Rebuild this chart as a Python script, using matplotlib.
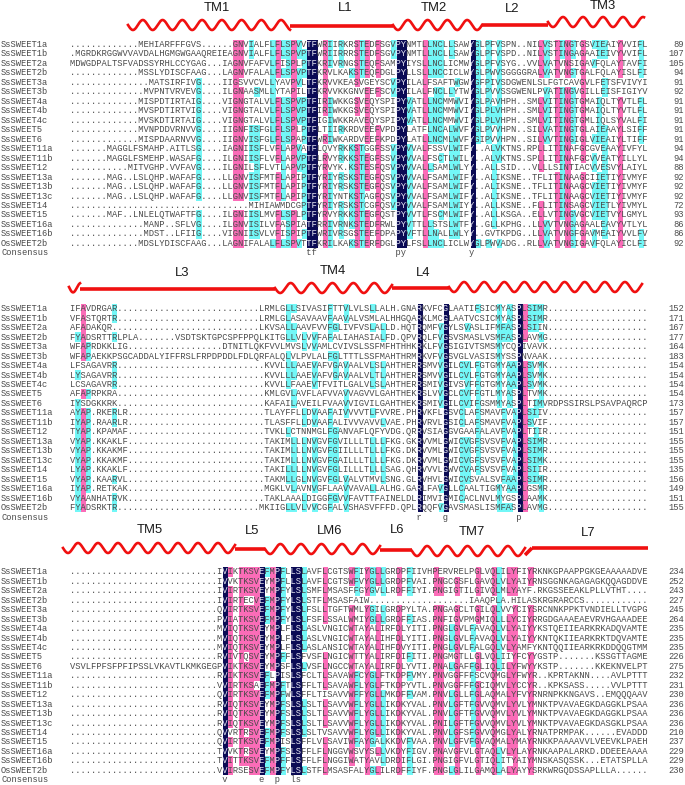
import numpy as np
import matplotlib
matplotlib.use("Agg")
import matplotlib.pyplot as plt
from matplotlib.colors import ListedColormap

names = ["SsSWEET1a", "SsSWEET1b", "SsSWEET2a", "SsSWEET2b", "SsSWEET3a", "SsSWEET3b",
         "SsSWEET4a", "SsSWEET4b", "SsSWEET4c", "SsSWEET5", "SsSWEET6", "SsSWEET11a",
         "SsSWEET11b", "SsSWEET12", "SsSWEET13a", "SsSWEET13b", "SsSWEET13c", "SsSWEET14",
         "SsSWEET15", "SsSWEET16a", "SsSWEET16b", "OsSWEET2b"]

seq1 = [
    "."*13 + "MEHIARFFFGVS......" + "GNVIALFLFLSPVVTF" + "WRIIRKRSTEDFSGVPY" + "NMTLLNCLLSAWY" + "GLPFVSPN..NILVSTINGTGSVIEAIYVVIFL",
    ".MGRDKRGGWVVAVDALHGMGWGAAQREIEA" + "GNVIALFLFLSPVPTF" + "WRIIRRRSTEDFSGVPY" + "NMTLLNCLLSAWY" + "GLPFVSPD..NILVSTINGAGAAIEIVYVVIFL",
    "MDWGDPALTSFVADSSYRHLCCYGAG...IA" + "GNVFAFVLFISPLPTF" + "KRIVRNGSTEQFSAMPY" + "IYSLLNCLICMWY" + "GLPFVSYG..VVLVATVNSIGAVFQLAYTAVFI",
    "."*13 + "MSSLYDISCFAAG...LA" + "GNVFALALFLSPVPTF" + "KRVLKAKSTEQFDGLPY" + "LLSLLNCCICLWY" + "GLPWVSGGGGRALVATVNGTGALFQLAYISLFI",
    "."*15 + "MATSIRFIVG....II" + "GSVVCVLLYAVPVLTF" + "KRVVKEASVGEYSCVPY" + "ILALFSAFTWGWY" + "GFPIVSDGWENLSLFGTCAVGVLFETSFVIVYI",
    "."*14 + "MVPNTVRVEVG....IL" + "GNAASMLLYTAPILTF" + "KRVVKKGNVEEFSCVPY" + "ILALFNCLLYTWY" + "GLPVVSSGWENLPVATINGVGILLEISFIGIYV",
    "."*13 + "MISPDTIRTAIG....VI" + "GNGTALVLFLSPVPTF" + "IRIWKKGSVEQYSPIPY" + "VATLLNCMMWVIY" + "GLPAVHPH..SMLVITINGTGMAIQLTYVTLFL",
    "."*13 + "MVSPDTIRTVIG....VI" + "GNGTALVLFLSPVPTF" + "IRIWKKGSVEQYSPIPY" + "VATLLNCMMWVIY" + "GLPLVHPH..SMLVITINGTGMAIQLTYVTLFL",
    "."*13 + "MVSKDTIRTAIG....VI" + "GNGTALVLFLSPVPTF" + "IGIWKKRAVEQYSPIPY" + "VATLLNCMMWVIY" + "GLPLVHPH..SMLVITINGTGMLIQLSYVALFI",
    "."*13 + "MVNPDDVRNVVG....II" + "GNFISFGLFLSPLPTF" + "LTIIRKRDVEEFVPDPY" + "LATFLNCALWVFY" + "GLPVVHPN..SILVATINGTGLAIEAAYLSIFF",
    "."*13 + "MISPDAARNVVG....II" + "GNVISFGLFLSPAPTF" + "WRIWKARDVEEFKPDPY" + "LATLLNCMLWVFY" + "GIPVVHPN..SILVVTINGIGLVIEAIYLTIFF",
    "."*7 + "MAGGLFSMAHP.AITLSG....IA" + "GNIISFLVFLAPVATF" + "LQVYRKKSTGGFSSVPY" + "VVALFSSVLWIFY" + "..ALVKTNS.RPLLITINAFGCGVEAAYIVFYL",
    "."*7 + "MAGGLFSMEHP.WASAFG....IL" + "GNIISFLVFLAPVPTF" + "LRVYRKKSTEGFSSVPY" + "VVALFSCTLWILY" + "..ALVKTNS.SPLLITINAFGCVVEATYILLYL",
    "."*11 + "MITVGHP.VVFAVG....IL" + "GNILSFLVTLAPVPTF" + "YRVYK.KSTESFQSVPY" + "VVALLSAMLWLYY" + "..ALLSID...VLLLSINTIACVVESVYLAIYL",
    "."*7 + "MAG..LSLQHP.WAFAFG....LL" + "GNVISFMTFLAPIPTF" + "YRIYRSKSTEGFQSVPY" + "VVALFSAMLWIFY" + "..ALIKSNE..TFLITINAAGCIIETIYIVMYF",
    "."*7 + "MAG..LSLQHP.WAFAFG....LL" + "GNVISFMTFLAPIPTF" + "YRIYRSKSTEGFQSVPY" + "VVALFSAMLWIFY" + "..ALIKSNE..TFLITINAAGCVIETIYIVMYF",
    "."*7 + "MAG..LSLQHP.WAFAFG....LL" + "GNVISFMTFLAPIPTF" + "YRIYNTKSTAGFQSVPY" + "VVALFSAMLWIFY" + "..ALIKSNE..TFLITINAAGCVIETIYIVMYF",
    "."*34 + "MIHIAWMDCGPTF" + "YRIYRSKSTCGFQSVPY" + "VVALFSAMLWIYY" + "..ALLKSNE..FLLITINSAGCVIETLYIVMYL",
    "."*7 + "MAF..LNLELQTWAFTFG....IL" + "GNIISLMVFLSPLPTF" + "YRVYRKKSTEGFQSTPY" + "VVTLFSCMLWIFY" + "..ALLKSGA..ELLVTINGVGCVIETVYLGMYL",
    "."*14 + "MANP..SFLVG....IL" + "GNVISILVFASPIATF" + "RRIVRNKSTEDFRWLPY" + "VTTLLSTSLWTFY" + "..GLLKPHG..LLVVTVNGAGAALEAVYVTLYL",
    "."*14 + "MDST..LFIIG....VI" + "GNIISVLVFISPIPTF" + "WRIVRSGSTEEFDPAPY" + "VFTLLNALLWLYY" + "..GVTKPDG..LLVATVNGFGAVMEAIYVVLFV",
    "."*13 + "MDSLYDISCFAAG...LA" + "GNIFALALFLSPVTTF" + "KRILKAKSTERFDGLPY" + "LFSLLNCLICLWY" + "GLPWVADG..RLLVATVNGIGAVFQLAYICLFI",
]
num1 = [89, 107, 105, 94, 91, 92, 91, 91, 91, 91, 91, 94, 94, 88, 92, 92, 92, 72, 93, 86, 86, 92]
cons1 = " "*45 + "tf" + " "*15 + "py" + " "*12 + "y"

seq2 = [
    "IFAVDRGAR" + "."*27 + "LRMLGLLSIVASIFTTVLVLSLLALH.GNA" + "RKVFCG" + "LAATIFSICMYASP" + "LSIMR" + "."*19,
    "VFASTQRTR" + "."*27 + "LRMLGLASAVAAVFAAVALVSMLALHHGQA" + "RKLMCG" + "LAATVCSICMYASP" + "LSIMR" + "."*19,
    "AFADAKQR" + "."*28 + "LKVSALLAAVFVVFGLIVFVSLALLD.HQT" + "RQMFVG" + "YLSVASLIFMFASP" + "LSIIN" + "."*19,
    "FYADSRTTRLPLA" + "."*7 + "VSDTSKTGPCSPFPPQ" + "LKITGLLVLVVFAFALIAHASIALFD.QPV" + "RQLFVG" + "SVSMASLVSMFASP" + "LAVMG" + "."*19,
    "WFAPRDKKLIG" + "."*18 + "DTNITLQ" + "KFVVLMVSLVVAMLCVIVSLSSFMFHTHHK" + "RKLFVG" + "SIGIVTSMSMYCQP" + "IVAVK" + "."*19,
    "WFAPAEKKPSGCADDALYIFFRSLFRPDPDDLFDLQ" + "RFALQLVLPVLALFGLTTTLSSFMAHTHRM" + "RKVFVG" + "SVGLVASISMYSSP" + "NVAAK" + "."*19,
    "LFSAGAVRR" + "."*27 + ".KVVLLLAAEVAFVGAVAALVLSLAHTHER" + "RSMVVG" + "ILCVLFGTGMYAAP" + "LSVMK" + "."*19,
    "LYSAGAVRR" + "."*27 + ".KVVLLLAAEVAFVGAVAALVLTLAHTHER" + "RSMVVG" + "ILCVLFGTGMYAAP" + "LSVMK" + "."*19,
    "LCSAGAVRR" + "."*27 + ".KVVLLFAAEVTFVITLGALVLSLAHTHER" + "RSMIVG" + "IVSVFFGTGMYAAP" + "LSVMK" + "."*19,
    "AFAPRPKRA" + "."*27 + ".KMLGVLAVFLAFVVAVVAGVVLGAHTHEK" + "RSLVVG" + "CLCVFFGTLMYASP" + "LTVMK" + "."*19,
    "IYSDGKKRK" + "."*27 + ".KAFAILAVEILFVAAVVIGVILGAHTHEK" + "RSMIVG" + "ILCVIFGSMMYASP" + "LTIMVRDPSSIRSLPSAVPAQRCP",
    "AYAP.RKERLR" + "."*25 + ".TLAYFFLLDVAAFAIVVVVTLFVVRE.PH" + "RVKFLG" + "SVCLAFSMAVFVAP" + "LSIIV" + "."*19,
    "IYAP.RAARLR" + "."*25 + ".TLASFFLLDVAAFALIVVVAVVLVAE.PH" + "RVRVLG" + "SICLAFSMAVFVAP" + "LSVIF" + "."*19,
    "TYAP.KPAMAF" + "."*25 + ".TVKLLCTNNMGLFGANVAFLQFYVDG.QR" + "RVSIAG" + "GVGAAFALAVFVAP" + "LTIIR" + "."*19,
    "VYAP.KKAKLF" + "."*25 + ".TAKIMLLLNVGVFGVILLLTLLLFKG.GK" + "RVVMLG" + "WICVGFSVSVFVAP" + "LSIMR" + "."*19,
    "VYAP.KKAKMF" + "."*25 + ".TAKIMLLLNVGVFGIILLLTLLLFKG.DK" + "RVVMLG" + "WICVGFSVSVFVAP" + "LSIMR" + "."*19,
    "VYAP.KKAKMF" + "."*25 + ".TAKIMLLLNVGVFGAILLLTLLLFKG.DK" + "RVVMLG" + "WICVGFSVSVFVAP" + "LSIMK" + "."*19,
    "LYAP.KKAKLF" + "."*25 + ".TAKILLLLNVGVFGLILLLTLLLSAG.QH" + "RVVVLG" + "WVCVAFSVSVFVAP" + "LSIIR" + "."*19,
    "VYAP.KAARVL" + "."*25 + ".TAKMLLGLNVGVFGLVALVTMVLSNG.GL" + "RVHVLG" + "WICVSVALSVFAAP" + "LSIMR" + "."*19,
    "IYAP.RETKAK" + "."*25 + ".MGKLVLAVNVGFLAAVVAVALLALHG.GA" + "RLFAVG" + "LLCAALTIGMYAAP" + "LGSMR" + "."*19,
    "VYAANHATRVK" + "."*25 + ".TAKLAAALDIGGFGVVFAVTTFAINELDL" + "RIMVIG" + "MICACLNVLMYGSP" + "LAAMK" + "."*19,
    "FYADSRKTR" + "."*27 + "MKIIGLLVLVVCGFALVSHASVFFFD.QPL" + "RQQFVG" + "AVSMASLISMFASP" + "LAVMG" + "."*19,
]
num2 = [152, 171, 167, 177, 164, 183, 154, 154, 154, 154, 173, 157, 157, 151, 155, 155, 155, 135, 156, 149, 151, 155]
cons2 = " "*66 + "r" + " "*4 + "g" + " "*13 + "p"

seq3 = [
    "."*28 + "IVIKTKSVEFMPFLLSLAVFLCGTSWFIYGLLGRDPFIIVHPERVRELPGLVQLILYFIY" + "RKNKGPAAPPGKGEAAAAADVE",
    "."*28 + "IVVKTKSVEYMPFLLSLAVFLCGTSWFVYGLLGRDPFVAI.PNGCGSFLGAVQLVLYAIY" + "RNSGGNKAGAGAGKQQAGDDVE",
    "."*28 + "IVIRTKSVEYMPFYLSLSMFLMSASFFGYGVLLRDFFIYI.PNGIGTILGIVQLMLYAYF" + ".RKGSSEEAKLPLLVTHT....",
    "."*28 + "IVIRTECVEFMPFYLSLSTFLMSASFAIW." + "."*18 + "IAAQPLA.HILA" + "SKRGRARCCS" + "."*12,
    "."*28 + "QVIRTKSVEFMPFYLSLFSLLTGFTWMLYGILGRDPYLTA.PNGAGCLTGILQLVVYCIY" + "SRCNNKPPKTVNDIELLTVGPG",
    "."*28 + "PVIATKSVEFMPFYLSLFSFLSSALWMIYGLLGRDFFIAS.PNFIGVPMGMIQLLLYCIY" + "RRGDGAAAEAEVRVHGAAADEE",
    "."*28 + "MVIQTKSVEYMPLFLSLASLVNGICWTAYALIRFDLYITI.PNGLGVLFAVAQLVLYAIY" + "YKSTQEIIEARKRKADQVAMTE",
    "."*28 + "MVIQTKSVEYMPLFLSLASLVNGICWTAYALIHFDLYITI.PNGLGVLFAVAQLVLYAIY" + "YKNTQKIIEARKRKTDQVAMTE",
    "."*28 + "MVIQTKSVEYMPLFLSLASLANSICWTAYALIHFDVYITI.PNGLGVLFALGQLVLYAMF" + "YKNTQQIIEARKRKDDQQGTMM",
    "."*28 + "RVIVTQSVEYMPFFLSFVSFLNGICWTTYALIRFDIFITI.PNGMGTLLGLVQLIIYFCY" + "YGSTP.......KSSGTTAGME",
    "VSVLFPFSFPFIPSSLVKAVTLKMKGEG" + "PVIKTKSVEYMPSFLSLVSFLNGCCWTAYALIRFDLYVTI.PNALGAFFGLIQLILYFWY" + "YKSTP.......KKEKNVELPT",
    "."*28 + "RVIKTKSVEFLPISLSFCLTLSAVAWFCYGLFTKDPFVMY.PNVGGFFFSCVQMGLYFWY" + "R..KPRTAKNN....AVLPTTT",
    "."*28 + "VVIRTKSAEFMPFTLSFFLTLSAVAWFLYGLFTKDPYVTL.PNVGGFFFGCIQMVLYCCY" + "R..KPKSASS.....VVLPTTT",
    "."*28 + "QVIRTKSVEFMPFWLSFFLTISAVVWFFYGLLMKDFFVAM.PNVLGLLFGLAQMALYFVY" + "RNRNPKKNGAVS..EMQQQAAV",
    "."*28 + "RVIQTKSVEYMPFSLSLSLTLSAVVWFLYGLLIKDKYVAL.PNVLGFTFGVVQMVLYVLY" + "MNKTPVAVAEGKDAGGKLPSAA",
    "."*28 + "RVIQTKSVEYMPFSLSLSLTLSAVVWFLYGLLIKDKYVAL.PNVLGFTFGVVQMVLYVLY" + "MNKTPVAVAEGKDAGGKLPSAA",
    "."*28 + "RVIQTKSVEYMPFSLSLSLTLSAVVWFLYGLLIKDKYVAL.PNILGFTFGVVQMVLYVLY" + "MNKTPVAVAEGKDASGKLPSAA",
    "."*28 + "QVVRTRSVEFMPFSLSLSLTVSAVVWFLYGLLIKDKYVAL.PNVLGFSFGVVQMGLYALY" + "RNATPRMPAK......EVADDD",
    "."*28 + "QVIRTKSVEFMPISLSFFLVLSAVIWFAYGALKKDVFVAA.PNVLGFVFGVAQMALYMAY" + "RNKKPAAAAVVLVEEVKLPAEH",
    "."*28 + "TVVKTRSVEYMPFSLSFFLFLNGGVWSVYSLLVKDYFIGV.PNAVGFVLGTAQLVLYLAY" + "RNKAAPALARKD.DDEEEAAAA",
    "."*28 + "TVITTKSVEFMPFFLSFFLFLNGGIWATYAVLDRDIFLGI.PNGIGFVLGTIQLITYAIY" + "MNSKASQSSK...ETATSPLLA",
    "."*28 + "VVIRSESVEFMPFYLSLSTFLMSASFALYGLILRDFFIYF.PNGLGLILGAMQLALYAYY" + "SRKWRGQDSSAPLLLA......",
]
num3 = [234, 252, 243, 227, 245, 264, 235, 235, 235, 226, 275, 232, 231, 230, 236, 236, 236, 210, 237, 229, 229, 230]
cons3 = " "*29 + "v" + " "*6 + "e" + " "*2 + "p" + " "*2 + "ls"

# topology tracks: kind, x start, x end, y at both ends, turns of the helix
track1 = [("w", 128, 290, 25, 25, 8.2), ("l", 290, 393, 25.5, 25.5, 0),
          ("w", 393, 482, 25, 25, 4.5), ("l", 482, 548, 24.5, 24.5, 0),
          ("w", 548, 644, 22, 22, 4.8)]
track2 = [("w", 69, 80, 287, 288, 0.7), ("l", 80, 275, 289, 289, 0),
          ("w", 275, 392, 288, 288, 5.6), ("l", 392, 449, 288, 288, 0),
          ("w", 449, 642, 287, 287, 9.6)]
track3 = [("w", 63, 235, 548, 548, 8.6), ("l", 235, 265, 549, 549, 0),
          ("w", 265, 380, 549, 549, 5.6), ("l", 380, 412, 550, 550, 0),
          ("w", 412, 525, 551, 551, 5.6), ("l", 525, 532, 555, 548, 0),
          ("l", 532, 648, 548, 548, 0)]
labels1 = [("TM1", 217, 8), ("L1", 345, 8), ("TM2", 434, 8), ("L2", 512, 9), ("TM3", 603, 6)]
labels2 = [("L3", 182, 273), ("TM4", 333, 271), ("L4", 423, 273)]
labels3 = [("TM5", 150, 530), ("L5", 252, 531), ("LM6", 330, 531), ("L6", 397, 530),
           ("TM7", 472, 532), ("L7", 588, 533)]

# first row y, row pitch
blocks = [(seq1, num1, cons1, 44.5, 9.47), (seq2, num2, cons2, 308.7, 9.476), (seq3, num3, cons3, 572.0, 9.44)]

X0 = 70.0
CW = 5.27
FS = 6.32
MONO = "Liberation Mono"
NAVY = "#0b0b55"
PINK = "#fb6cb8"
CYAN = "#72f7f7"
TXT = "#4a4a4a"


def levels(rows):
    # 3 = all rows same, 2 = 75 %, 1 = 50 %, 0 = none
    arr = np.array([list(r) for r in rows])
    out = np.zeros(arr.shape, dtype=int)
    for c in range(arr.shape[1]):
        col = arr[:, c]
        letters, counts = np.unique(col[col != "."], return_counts=True)
        if len(letters) == 0:
            continue
        top = letters[counts.argmax()]
        frac = counts.max() / len(col)
        lev = 3 if frac == 1 else 2 if frac >= 0.75 else 1 if frac >= 0.5 else 0
        out[:, c][col == top] = lev
    return out


fig = plt.figure(figsize=(6.85, 7.85), dpi=100)
ax = fig.add_axes([0, 0, 1, 1])
ax.set_xlim(0, 685)
ax.set_ylim(785, 0)
ax.axis("off")

cmap = ListedColormap(["white", CYAN, PINK, NAVY])

for rows, nums, cons, y0, dy in blocks:
    lev = levels(rows)
    xe = X0 + np.arange(lev.shape[1] + 1) * CW
    ye = y0 - dy / 2 + np.arange(lev.shape[0] + 1) * dy
    ax.pcolormesh(xe, ye, lev, cmap=cmap, vmin=-0.5, vmax=3.5, antialiased=False)
    for i, r in enumerate(rows):
        y = y0 + i * dy
        dark = "".join(ch if lev[i, c] < 3 else " " for c, ch in enumerate(r))
        light = "".join(ch if lev[i, c] == 3 else " " for c, ch in enumerate(r))
        ax.text(1, y, names[i], family=MONO, fontsize=FS, color=TXT, va="center")
        ax.text(X0, y, dark, family=MONO, fontsize=FS, color=TXT, va="center")
        ax.text(X0, y, light, family=MONO, fontsize=FS, color="#e8e8f4", va="center")
        ax.text(684, y, str(nums[i]), family=MONO, fontsize=FS, color=TXT, va="center", ha="right")
    y = y0 + len(rows) * dy
    ax.text(1, y, "Consensus", family=MONO, fontsize=FS, color=TXT, va="center")
    ax.text(X0, y, cons, family=MONO, fontsize=FS, color=TXT, va="center")

for track in (track1, track2, track3):
    for kind, xa, xb, ya, yb, turns in track:
        if kind == "l":
            ax.plot([xa, xb], [ya, yb], color="#f01010", lw=2.6, solid_capstyle="butt")
        else:
            xs = np.linspace(xa, xb, 300)
            ys = np.linspace(ya, yb, 300) + 5 * np.sin(np.linspace(0, 2 * np.pi * turns, 300))
            ax.plot(xs, ys, color="#f01010", lw=1.9)

for lab in (labels1, labels2, labels3):
    for t, x, y in lab:
        ax.text(x, y, t, family="Liberation Sans", fontsize=9.4, color="#1a1a1a", ha="center", va="center")

fig.savefig("out.png", dpi=100)
